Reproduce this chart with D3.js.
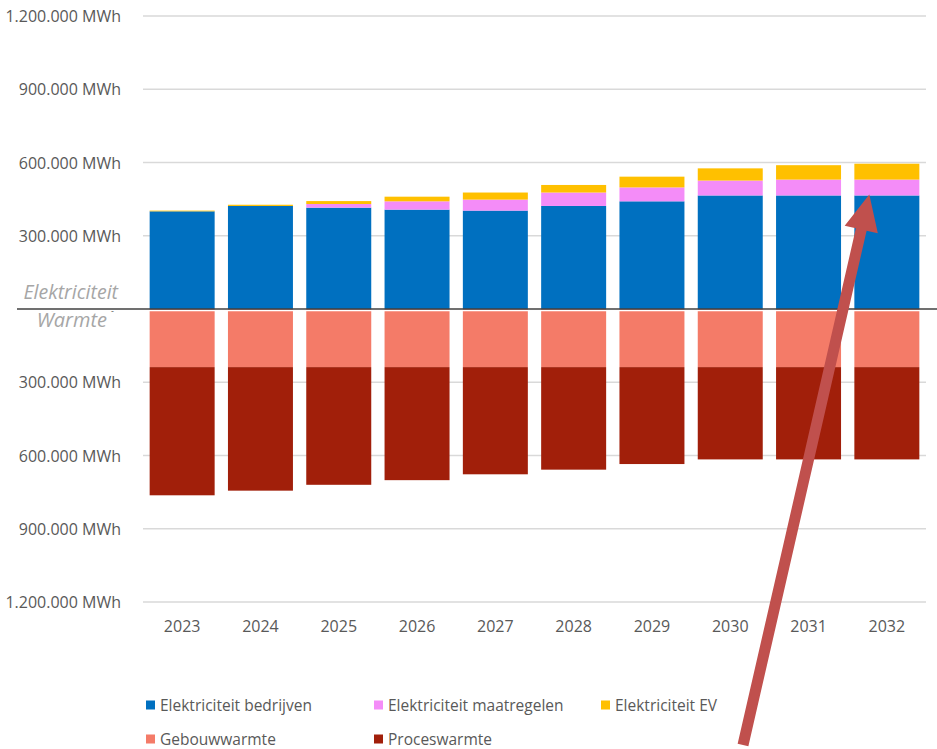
<!DOCTYPE html>
<html>
<head>
<meta charset="utf-8">
<script src="https://cdn.jsdelivr.net/npm/d3@7/dist/d3.min.js"></script>
<style>
	body { margin: 0; background: #fff; }
	svg { display: block; font-family: "Open Sans", "Noto Sans", sans-serif; }
</style>
</head>
<body>
<script>
var WIDTH = 937, HEIGHT = 749;

// Data (MWh)
var YEARS = ["2023", "2024", "2025", "2026", "2027", "2028", "2029", "2030", "2031", "2032"];
var elekBedrijven   = [400000, 422000, 415000, 407000, 403000, 422000, 441000, 465000, 465000, 465000];
var elekMaatregelen = [0, 0, 15000, 34000, 45000, 55000, 57000, 61000, 65000, 65000];
var elekEV          = [3000, 5000, 12000, 19000, 29000, 31000, 44000, 50000, 59000, 65000];
var gebouwwarmte    = [238000, 238000, 238000, 238000, 238000, 238000, 238000, 238000, 238000, 238000];
var proceswarmte    = [525000, 506000, 482000, 463000, 439000, 420000, 397000, 378000, 378000, 378000];
var TICKS = [1200000, 900000, 600000, 300000, 0, -300000, -600000, -900000, -1200000];

var upSeries = [
	{name: "Elektriciteit bedrijven", color: "#0070C0", values: elekBedrijven},
	{name: "Elektriciteit maatregelen", color: "#F48CF8", values: elekMaatregelen},
	{name: "Elektriciteit EV", color: "#FFC000", values: elekEV}
];
var downSeries = [
	{name: "Gebouwwarmte", color: "#F47B68", values: gebouwwarmte},
	{name: "Proceswarmte", color: "#A11F0A", values: proceswarmte}
];

var plot = {left: 143, right: 926, top: 16, bottom: 602};

var x = d3.scaleBand().domain(YEARS).range([plot.left, plot.right]).paddingInner(0.17).paddingOuter(0.085);
var y = d3.scaleLinear().domain([1200000, -1200000]).range([plot.top, plot.bottom]);

var svg = d3.select("body").append("svg").attr("width", WIDTH).attr("height", HEIGHT);

// Grid
svg.append("g").attr("class", "grid").selectAll("line")
	.data(TICKS.filter(d => d !== 0))
	.enter().append("line")
	.attr("x1", plot.left).attr("x2", plot.right)
	.attr("y1", d => y(d)).attr("y2", d => y(d))
	.attr("stroke", "#d9d9d9").attr("stroke-width", 1.3);

// Y tick labels (absolute values, Dutch format)
var nl = d3.formatLocale({decimal: ",", thousands: ".", grouping: [3], currency: ["", ""]});
var fmt = nl.format(",d");
svg.append("g").attr("class", "yTicks").selectAll("text")
	.data(TICKS.filter(d => d !== 0))
	.enter().append("text")
	.attr("x", 121)
	.attr("y", d => y(d))
	.attr("text-anchor", "end")
	.attr("dominant-baseline", "central")
	.style("font-size", "16px")
	.attr("fill", "#595959")
	.text(d => fmt(Math.abs(d)) + " MWh");

// zero label ("-" in accounting format)
svg.append("text")
	.attr("x", 114).attr("y", y(0) + 5)
	.attr("text-anchor", "end")
	.style("font-size", "9px")
	.attr("fill", "#595959")
	.text("-");

// Stacked bars
var stackUp = d3.stack().keys(d3.range(upSeries.length)).value((d, k) => upSeries[k].values[d]);
var layersUp = stackUp(d3.range(YEARS.length));
var stackDown = d3.stack().keys(d3.range(downSeries.length)).value((d, k) => -downSeries[k].values[d]).offset(d3.stackOffsetDiverging);
var layersDown = stackDown(d3.range(YEARS.length));

function drawLayers(layers, series, cls) {
	svg.append("g").attr("class", cls).selectAll("g")
		.data(layers)
		.enter().append("g")
		.attr("fill", (d, i) => series[i].color)
		.selectAll("rect")
		.data(d => d)
		.enter().append("rect")
		.attr("x", (d, i) => x(YEARS[i]))
		.attr("width", x.bandwidth())
		.attr("y", d => y(Math.max(d[0], d[1])))
		.attr("height", d => Math.abs(y(d[0]) - y(d[1])));
}
drawLayers(layersUp, upSeries, "elek");
drawLayers(layersDown, downSeries, "warmte");

// white separation under zero line
svg.append("line")
	.attr("x1", plot.left).attr("x2", plot.right)
	.attr("y1", y(0) + 1.5).attr("y2", y(0) + 1.5)
	.attr("stroke", "#fff").attr("stroke-width", 1.5);

// Zero axis
svg.append("line")
	.attr("x1", 17).attr("x2", WIDTH)
	.attr("y1", y(0)).attr("y2", y(0))
	.attr("stroke", "#404040").attr("stroke-width", 1.3);

// Section labels
svg.append("text").attr("x", 118).attr("y", y(0) - 10)
	.attr("text-anchor", "end")
	.style("font-size", "19.5px").style("font-style", "italic")
	.attr("fill", "#a6a6a6").text("Elektriciteit");
svg.append("text").attr("x", 107).attr("y", y(0) + 18)
	.attr("text-anchor", "end")
	.style("font-size", "20px").style("font-style", "italic")
	.attr("fill", "#a6a6a6").text("Warmte");

// X labels
svg.append("g").attr("class", "xTicks").selectAll("text")
	.data(YEARS)
	.enter().append("text")
	.attr("x", d => x(d) + x.bandwidth() / 2)
	.attr("y", 626)
	.attr("text-anchor", "middle")
	.attr("dominant-baseline", "central")
	.style("font-size", "16px")
	.attr("fill", "#595959")
	.text(d => d);

// Legend
var legendItems = upSeries.concat(downSeries);
var legendPos = [[146, 705], [374, 705], [601, 705], [146, 739], [374, 739]];
var legend = svg.append("g").attr("class", "legend").selectAll("g")
	.data(legendItems)
	.enter().append("g")
	.attr("transform", (d, i) => "translate(" + legendPos[i][0] + "," + legendPos[i][1] + ")");
legend.append("rect")
	.attr("x", 0).attr("y", -4.5).attr("width", 9).attr("height", 9)
	.attr("fill", d => d.color);
legend.append("text")
	.attr("x", 14).attr("y", 0)
	.attr("dominant-baseline", "central")
	.style("font-size", "15.5px")
	.attr("fill", "#595959")
	.text(d => d.name);

// Annotation arrow, pointing at the 2032 bar
var tip = [x("2032") + x.bandwidth() * 0.23, y(elekBedrijven[9]) - 1];
var tail = [743, 745];
var ang = Math.atan2(tip[1] - tail[1], tip[0] - tail[0]);
var headLen = 36, headHalf = 17, shaftHalf = 5.5;
var px = -Math.sin(ang), py = Math.cos(ang);
var bx = tip[0] - headLen * Math.cos(ang), by = tip[1] - headLen * Math.sin(ang);
var pts = [
	[tail[0] + px * shaftHalf, tail[1] + py * shaftHalf],
	[bx + px * shaftHalf, by + py * shaftHalf],
	[bx + px * headHalf, by + py * headHalf],
	tip,
	[bx - px * headHalf, by - py * headHalf],
	[bx - px * shaftHalf, by - py * shaftHalf],
	[tail[0] - px * shaftHalf, tail[1] - py * shaftHalf]
];
svg.append("path")
	.attr("d", d3.line()(pts) + "Z")
	.attr("fill", "#C0504D");
</script>
</body>
</html>
